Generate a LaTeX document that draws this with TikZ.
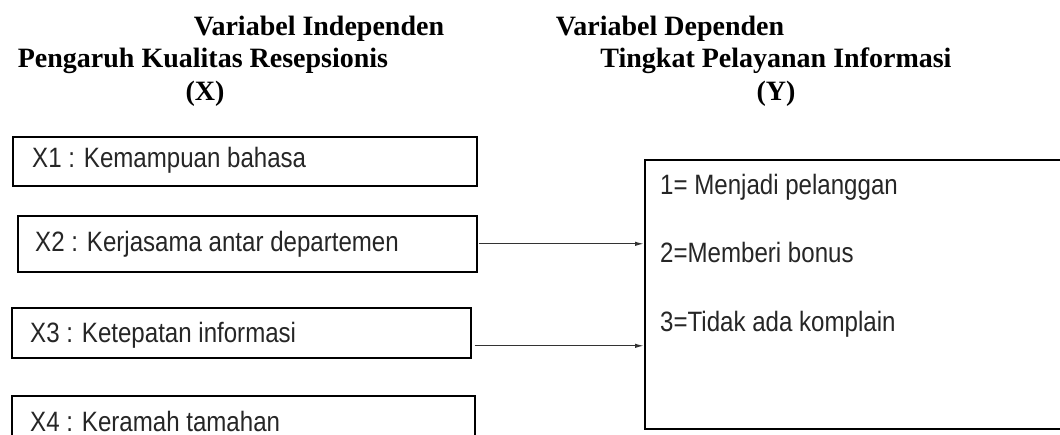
\documentclass[tikz,border=0pt]{standalone}
\usepackage{fontspec}
\usepackage{graphicx}
\setmainfont{Liberation Serif}
\newfontfamily\boxfont{Liberation Sans}
\newcommand{\narrowtext}[1]{\scalebox{0.86}[1]{#1}}
\usetikzlibrary{arrows.meta}
\begin{document}
\begin{tikzpicture}[x=1pt,y=-1pt,
  box/.style={draw=black, line width=1.6pt, fill=white, inner sep=0pt, anchor=north west},
  title/.style={font=\fontsize{28}{33}\selectfont\bfseries, anchor=base, inner sep=0pt},
  itemtext/.style={font=\boxfont\fontsize{28}{30}\selectfont, text=black!85, anchor=base west, inner sep=0pt},
  link/.style={line width=1.3pt, draw=black!80, -{Latex[length=9pt,width=4.5pt]}}]
\clip (0,0) rectangle (1060,435);
\fill[white] (0,0) rectangle (1060,435);
% titles
\node[title] (t1) at (319,36) {Variabel Independen};
\node[title] (t2) at (670,36) {Variabel Dependen};
\node[title] (t3) at (203,68) {Pengaruh Kualitas Resepsionis};
\node[title] (t4) at (776,68) {Tingkat Pelayanan Informasi};
\node[title] (tx) at (205,101) {(X)};
\node[title] (ty) at (776,101) {(Y)};
% left boxes
\node[box, minimum width=464pt, minimum height=49pt] (x1) at (12,136) {};
\node[box, minimum width=459pt, minimum height=56pt] (x2) at (17,215) {};
\node[box, minimum width=459pt, minimum height=50pt] (x3) at (11,307) {};
\node[box, minimum width=463pt, minimum height=60pt] (x4) at (11,395) {};
\node[itemtext] (x1t) at (32,168) {\narrowtext{X1 : Kemampuan bahasa}};
\node[itemtext] (x2t) at (35,252) {\narrowtext{X2 : Kerjasama antar departemen}};
\node[itemtext] (x3t) at (30,343) {\narrowtext{X3 : Ketepatan informasi}};
\node[itemtext] (x4t) at (30,431) {\narrowtext{X4 : Keramah tamahan}};
% right box
\node[box, minimum width=456pt, minimum height=269pt] (yb) at (644,159) {};
\node[itemtext] (y1) at (660,195) {\narrowtext{1= Menjadi pelanggan}};
\node[itemtext] (y2) at (660,263) {\narrowtext{2=Memberi bonus}};
\node[itemtext] (y3) at (660,332) {\narrowtext{3=Tidak ada komplain}};
% connectors
\coordinate (a1) at (x2.east);
\coordinate (a2) at ([yshift=-13pt]x3.east);
\draw[link] ([xshift=1pt]a1) -- (a1 -| yb.west);
\draw[link] ([xshift=3pt]a2) -- (a2 -| yb.west);
\end{tikzpicture}
\end{document}
